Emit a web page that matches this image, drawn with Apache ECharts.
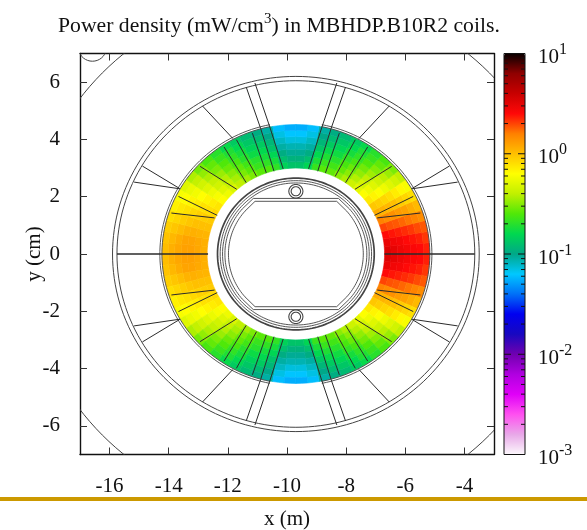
<!DOCTYPE html>
<html>
<head>
<meta charset="utf-8">
<style>html,body{margin:0;padding:0;background:#fff}#main{width:587px;height:530px}</style>
<script src="https://cdn.jsdelivr.net/npm/echarts@6/dist/echarts.min.js"></script>
</head>
<body>
<div id="main"></div>
<script>
var xTicks = [-16, -14, -12, -10, -8, -6, -4];
var yTicks = [-6, -4, -2, 0, 2, 4, 6];
var centerX = -9.7;

// power density in mW/cm3, one row per 5 deg from the midplane up, inner to outer radius
var coilRadii = [3.0, 3.22, 3.44, 3.66, 3.88, 4.1, 4.32, 4.52];
var rightCoil = [
  [3.3, 3.1, 2.9, 2.7, 2.6, 2.5, 2.3],
  [3.0, 2.8, 2.7, 2.5, 2.4, 2.3, 2.1],
  [2.5, 2.4, 2.3, 2.2, 2.1, 1.95, 1.85],
  [2.0, 1.9, 1.85, 1.75, 1.65, 1.55, 1.45],
  [1.55, 1.45, 1.4, 1.3, 1.25, 1.15, 1.05],
  [1.15, 1.1, 1.05, 1.0, 0.92, 0.85, 0.8],
  [0.95, 0.9, 0.85, 0.8, 0.72, 0.66, 0.6],
  [0.74, 0.68, 0.62, 0.56, 0.5, 0.45, 0.4],
  [0.62, 0.56, 0.5, 0.44, 0.39, 0.34, 0.3],
  [0.52, 0.46, 0.4, 0.35, 0.31, 0.27, 0.24],
  [0.44, 0.38, 0.33, 0.29, 0.25, 0.22, 0.2],
  [0.37, 0.32, 0.28, 0.24, 0.21, 0.19, 0.165],
  [0.32, 0.27, 0.24, 0.21, 0.18, 0.16, 0.14],
  [0.27, 0.23, 0.2, 0.175, 0.155, 0.135, 0.12],
  [0.26, 0.22, 0.19, 0.165, 0.14, 0.12, 0.105],
  [0.22, 0.185, 0.16, 0.135, 0.115, 0.1, 0.09],
  [0.155, 0.125, 0.105, 0.09, 0.08, 0.07, 0.06],
  [0.13, 0.11, 0.095, 0.085, 0.072, 0.062, 0.055]
];
var leftCoil = [
  [1.12, 1.2, 1.25, 1.25, 1.2, 1.12, 1.02],
  [1.12, 1.18, 1.22, 1.22, 1.15, 1.06, 0.98],
  [1.08, 1.1, 1.12, 1.1, 1.02, 0.96, 0.9],
  [1.0, 1.0, 1.0, 0.96, 0.9, 0.85, 0.8],
  [0.92, 0.9, 0.88, 0.84, 0.78, 0.74, 0.7],
  [0.84, 0.8, 0.78, 0.72, 0.68, 0.64, 0.6],
  [0.76, 0.72, 0.68, 0.63, 0.58, 0.54, 0.5],
  [0.64, 0.6, 0.55, 0.5, 0.45, 0.41, 0.37],
  [0.56, 0.5, 0.45, 0.41, 0.37, 0.33, 0.29],
  [0.48, 0.42, 0.38, 0.34, 0.3, 0.27, 0.24],
  [0.4, 0.36, 0.32, 0.28, 0.25, 0.22, 0.2],
  [0.35, 0.3, 0.27, 0.24, 0.21, 0.19, 0.165],
  [0.3, 0.26, 0.23, 0.2, 0.18, 0.16, 0.14],
  [0.26, 0.22, 0.2, 0.17, 0.15, 0.135, 0.12],
  [0.25, 0.21, 0.18, 0.16, 0.14, 0.12, 0.105],
  [0.21, 0.18, 0.155, 0.13, 0.115, 0.1, 0.09],
  [0.15, 0.125, 0.105, 0.09, 0.08, 0.07, 0.06],
  [0.13, 0.11, 0.095, 0.085, 0.072, 0.062, 0.055]
];

// magnet outline, x relative to the aperture centre, first quadrant mirrored to the others
var quadrantLines = [
  [4.21, 1.43, 2.75, 1.26],
  [3.97, 2.01, 2.66, 1.35],
  [3.24, 3.06, 2.0, 2.26],
  [2.43, 3.74, 1.68, 2.49],
  [2.01, 3.99, 1.33, 2.71],
  [1.47, 4.22, 1.0, 2.83],
  [1.19, 4.38, 0.74, 2.89],
  [0.88, 4.43, 0.43, 2.97],
  [3.95, 2.28, 5.47, 2.51],
  [3.92, 2.28, 5.19, 3.07],
  [2.13, 4.03, 3.16, 5.17],
  [1.19, 4.38, 1.68, 5.83],
  [0.88, 4.43, 1.385, 5.97]
];
var fullRings = [9.1, 6.2, 6.05];
var thinRings = [2.56, 2.48];
var thickRings = [2.65];
var coilEdges = [4.53, 4.6];
var screens = [[2.4, 1.44, 1.94], [2.28, 1.38, 1.84]];
var tubeY = [2.19, -2.19];
var tubeRadii = [0.24, 0.16];
var cornerArc = [-16.58, 7.2, 0.47];

var colorbarColors = ['#fcf8fc', '#e8a8e8', '#ff50f0', '#e000f8', '#b000e0', '#7000b0', '#1808c0',
  '#0000f0', '#0070f8', '#00c8ff', '#00a888', '#00d850', '#50e808', '#c0f000', '#ffff00',
  '#ffc000', '#ff8000', '#ff0808', '#c80000', '#900000', '#080000'];
var colorbarMajor = [0.001, 0.01, 0.1, 1, 10];
var colorbarMinor = [0.002, 0.003, 0.004, 0.005, 0.006, 0.007, 0.008, 0.009,
  0.02, 0.03, 0.04, 0.05, 0.06, 0.07, 0.08, 0.09,
  0.2, 0.3, 0.4, 0.5, 0.6, 0.7, 0.8, 0.9,
  2, 3, 4, 5, 6, 7, 8, 9];

var serif = '"Liberation Serif", "Times New Roman", serif';
var deg = Math.PI / 180;

var cells = [];
[[1, rightCoil], [-1, leftCoil]].forEach(function (side) {
  side[1].forEach(function (row, bin) {
    row.forEach(function (v, ring) {
      cells.push([side[0], 1, bin, ring, Math.log10(v)]);
      cells.push([side[0], -1, bin, ring, Math.log10(v)]);
    });
  });
});

function arc(r, a0, a1) {
  var pts = [];
  var n = Math.max(4, Math.ceil(Math.abs(a1 - a0) / 2));
  for (var i = 0; i <= n; i++) {
    var a = (a0 + (a1 - a0) * i / n) * deg;
    pts.push([centerX + r * Math.cos(a), r * Math.sin(a)]);
  }
  return pts;
}

function screenPath(s) {
  var r = s[0], fx = s[1], fy = s[2];
  var a = 41;
  var p = arc(r, -a, a);
  p.push([centerX + fx, fy], [centerX - fx, fy]);
  p = p.concat(arc(r, 180 - a, 180 + a));
  p.push([centerX - fx, -fy], [centerX + fx, -fy]);
  p.push(p[0]);
  return p;
}

var paths = [];
function addPath(points, width, color) {
  paths.push({ points: points, width: width, color: color || '#2b2b2b' });
}
fullRings.forEach(function (r) { addPath(arc(r, 0, 360), 1, '#444'); });
thinRings.forEach(function (r) { addPath(arc(r, 0, 360), 0.9, '#444'); });
thickRings.forEach(function (r) { addPath(arc(r, 0, 360), 1.7, '#444'); });
coilEdges.forEach(function (r) {
  addPath(arc(r, -79, 79), 0.9, '#444');
  addPath(arc(r, 101, 259), 0.9, '#444');
});
quadrantLines.forEach(function (l) {
  [[1, 1], [-1, 1], [1, -1], [-1, -1]].forEach(function (m) {
    addPath([[centerX + m[0] * l[0], m[1] * l[1]], [centerX + m[0] * l[2], m[1] * l[3]]], 1);
  });
});
addPath([[centerX - 6.05, 0], [centerX - 2.97, 0]], 1.6);
addPath([[centerX + 3.0, 0], [centerX + 6.05, 0]], 1.6);
screens.forEach(function (s) { addPath(screenPath(s), 0.9, '#444'); });
tubeY.forEach(function (y) {
  tubeRadii.forEach(function (r) {
    var p = [];
    for (var a = 0; a <= 360; a += 20) {
      p.push([centerX + r * Math.cos(a * deg), y + r * Math.sin(a * deg)]);
    }
    addPath(p, 1.1, '#444');
  });
});
(function () {
  var p = [];
  for (var a = 0; a <= 360; a += 10) {
    p.push([cornerArc[0] + cornerArc[2] * Math.cos(a * deg), cornerArc[1] + cornerArc[2] * Math.sin(a * deg)]);
  }
  addPath(p, 1, '#444');
})();

function renderCell(params, api) {
  var sx = api.value(0), sy = api.value(1), bin = api.value(2), ring = api.value(3);
  var a0 = bin * 5 * deg, a1 = (bin + 1) * 5 * deg;
  var r0 = coilRadii[ring], r1 = coilRadii[ring + 1];
  var corners = [[r0, a0], [r0, (a0 + a1) / 2], [r0, a1], [r1, a1], [r1, (a0 + a1) / 2], [r1, a0]];
  var color = api.visual('color');
  return {
    type: 'polygon',
    shape: {
      points: corners.map(function (c) {
        return api.coord([centerX + sx * c[0] * Math.cos(c[1]), sy * c[0] * Math.sin(c[1])]);
      })
    },
    style: { fill: color, stroke: color, lineWidth: 0.6 },
    silent: true
  };
}

function renderPath(params, api) {
  var path = paths[params.dataIndex];
  return {
    type: 'polyline',
    shape: { points: path.points.map(function (p) { return api.coord(p); }) },
    style: { fill: null, stroke: path.color, lineWidth: path.width },
    silent: true
  };
}

function renderBarTick(params, api) {
  var v = api.value(1);
  var len = colorbarMajor.indexOf(v) >= 0 ? 7 : 4;
  var a = api.coord([0, v]), b = api.coord([1, v]);
  return {
    type: 'group',
    children: [
      { type: 'line', shape: { x1: a[0], y1: a[1], x2: a[0] + len, y2: a[1] }, style: { stroke: '#111', lineWidth: 1 } },
      { type: 'line', shape: { x1: b[0], y1: b[1], x2: b[0] - len, y2: b[1] }, style: { stroke: '#111', lineWidth: 1 } }
    ],
    silent: true
  };
}

var lineStyle = { color: '#111', width: 1.4 };
var tickStyle = { color: '#333', width: 1 };

var option = {
  animation: false,
  backgroundColor: '#fff',
  title: {
    text: '{n|Power density (mW/cm}{s|3}{n|) in MBHDP.B10R2 coils.}',
    left: 58,
    top: 12,
    padding: 0,
    textStyle: {
      fontWeight: 'normal',
      rich: {
        n: { fontFamily: serif, fontSize: 21.7, fontWeight: 'normal', color: '#111' },
        s: { fontFamily: serif, fontSize: 15, fontWeight: 'normal', color: '#111', padding: [0, 0, 13, 0] }
      }
    }
  },
  grid: [
    { left: 80, top: 53.5, width: 414, height: 401, outerBoundsMode: 'none' },
    { left: 504, top: 53.5, width: 21, height: 401, show: true, borderColor: '#111', borderWidth: 1, backgroundColor: 'transparent', z: 5, outerBoundsMode: 'none' }
  ],
  xAxis: [
    {
      type: 'value', gridIndex: 0, min: -17, max: -3, position: 'bottom',
      name: 'x (m)', nameLocation: 'center', nameGap: 54,
      nameTextStyle: { fontFamily: serif, fontSize: 21, color: '#111' },
      axisLine: { onZero: false, lineStyle: lineStyle },
      axisTick: { inside: true, length: 7, customValues: xTicks, lineStyle: tickStyle },
      axisLabel: { customValues: xTicks, margin: 21, fontFamily: serif, fontSize: 21, color: '#111' },
      splitLine: { show: false }
    },
    {
      type: 'value', gridIndex: 0, min: -17, max: -3, position: 'top',
      axisLine: { onZero: false, lineStyle: lineStyle },
      axisTick: { inside: true, length: 7, customValues: xTicks, lineStyle: tickStyle },
      axisLabel: { show: false },
      splitLine: { show: false }
    },
    { type: 'value', gridIndex: 1, min: 0, max: 1, show: false }
  ],
  yAxis: [
    {
      type: 'value', gridIndex: 0, min: -7, max: 7, position: 'left',
      name: 'y (cm)', nameLocation: 'center', nameGap: 35, nameMoveOverlap: false,
      nameTextStyle: { fontFamily: serif, fontSize: 21, color: '#111' },
      axisLine: { onZero: false, lineStyle: lineStyle },
      axisTick: { inside: true, length: 7, customValues: yTicks, lineStyle: tickStyle },
      axisLabel: { customValues: yTicks, margin: 20, padding: [3, 0, 0, 0], fontFamily: serif, fontSize: 21, color: '#111' },
      splitLine: { show: false }
    },
    {
      type: 'value', gridIndex: 0, min: -7, max: 7, position: 'right',
      axisLine: { onZero: false, lineStyle: lineStyle },
      axisTick: { inside: true, length: 7, customValues: yTicks, lineStyle: tickStyle },
      axisLabel: { show: false },
      splitLine: { show: false }
    },
    {
      type: 'log', gridIndex: 1, logBase: 10, min: 0.001, max: 10, position: 'right',
      axisLine: { show: false },
      axisTick: { show: false },
      splitLine: { show: false },
      axisLabel: {
        margin: 13,
        padding: [8, 0, 0, 0],
        showMinLabel: true,
        showMaxLabel: true,
        formatter: function (v) {
          return '{b|10}{e|' + Math.round(Math.log10(v)) + '}';
        },
        rich: {
          b: { fontFamily: serif, fontSize: 21, color: '#111' },
          e: { fontFamily: serif, fontSize: 16, color: '#111', padding: [0, 0, 15, 0] }
        }
      }
    }
  ],
  visualMap: {
    type: 'continuous',
    min: -3,
    max: 1,
    seriesIndex: 0,
    dimension: 4,
    left: 504,
    top: 53.5,
    padding: 0,
    itemWidth: 21,
    itemHeight: 401,
    calculable: false,
    realtime: false,
    hoverLink: false,
    orient: 'vertical',
    z: 1,
    inRange: { color: colorbarColors }
  },
  graphic: [
    { type: 'rect', left: 0, top: 497, shape: { width: 587, height: 4 }, style: { fill: '#cc9900' }, z: -1 }
  ],
  series: [
    {
      type: 'custom',
      xAxisIndex: 0,
      yAxisIndex: 0,
      clip: true,
      renderItem: renderCell,
      data: cells,
      z: 2
    },
    {
      type: 'custom',
      xAxisIndex: 0,
      yAxisIndex: 0,
      clip: true,
      renderItem: renderPath,
      data: paths.map(function (p, i) { return [i, 0]; }),
      z: 3
    },
    {
      type: 'custom',
      xAxisIndex: 2,
      yAxisIndex: 2,
      renderItem: renderBarTick,
      data: colorbarMajor.concat(colorbarMinor).map(function (v) { return [0, v]; }),
      z: 6
    }
  ]
};

var myChart = echarts.init(document.getElementById('main'));
myChart.setOption(option);
</script>
</body>
</html>
